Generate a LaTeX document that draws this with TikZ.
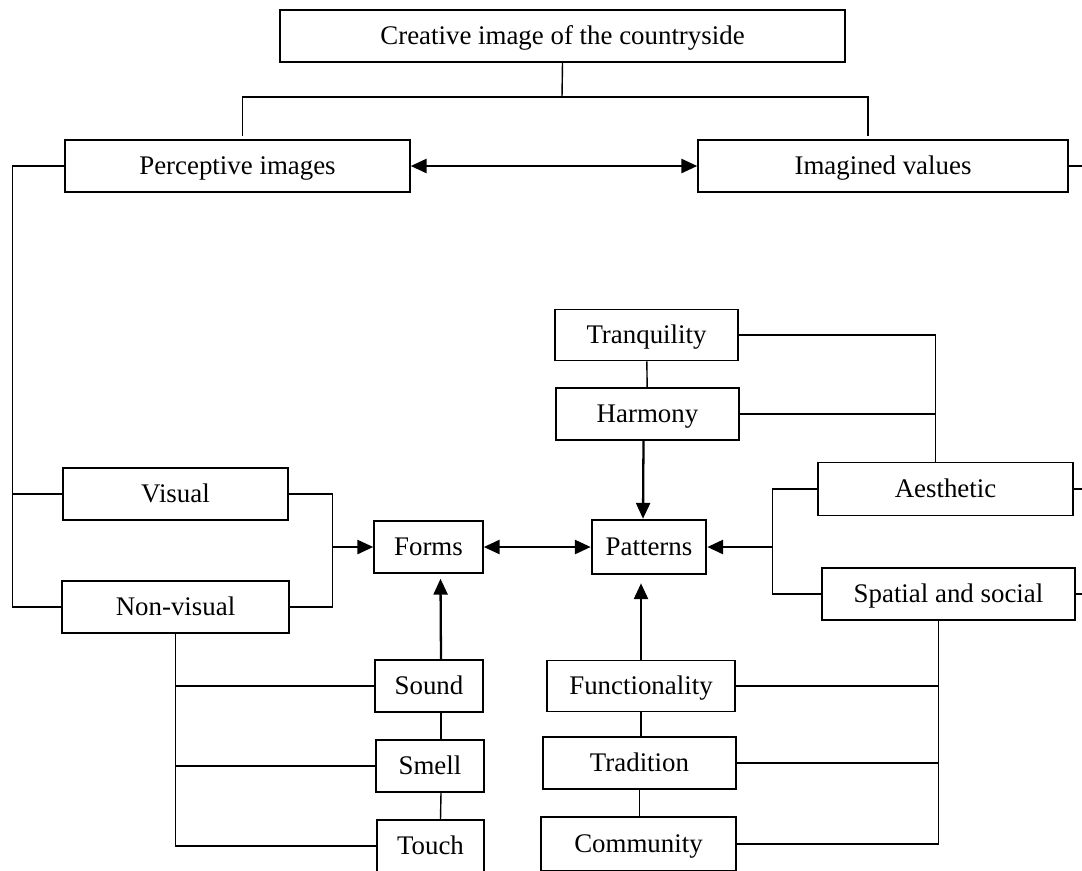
\documentclass[tikz,border=0pt]{standalone}
\usepackage{fontspec}
\setmainfont{Liberation Serif}
\usetikzlibrary{arrows.meta}
\usetikzlibrary{calc}

\tikzset{
  box/.style={draw, line width=0.9pt, inner sep=0pt, minimum height=1.04cm, text height=10.2pt, text depth=0pt, font=\fontsize{15.3}{18}\selectfont},
  arr/.style={-{Triangle[length=9pt,width=8pt]}, line width=1.3pt},
  dbl/.style={{Triangle[length=9pt,width=8pt]}-{Triangle[length=9pt,width=8pt]}, line width=1.3pt}
}

\begin{document}
\begin{tikzpicture}[x=0.02cm, y=-0.02cm, line width=0.8pt]
              \useasboundingbox (0,0) rectangle (1082,870);
              \clip (0,0) rectangle (1082,870);

              % top level
              \node[box, minimum width=11.3cm] (top) at (562.5,36) {Creative image of the countryside};
              \node[box, minimum width=6.9cm] (perc) at (237.5,166) {Perceptive images};
              \node[box, minimum width=7.4cm] (imag) at (883,166) {Imagined values};
              \coordinate (split) at (562,97);
              \draw (top.south) -- (split);
              \draw ([shift={(5,-3)}]perc.north) |- (split) -| ([shift={(-15,-3)}]imag.north);
              \draw[dbl] (perc) -- (imag);
              \draw (imag.east) -- ++(30,0);

              % perceptive side
              \node[box, minimum width=4.5cm] (visual) at (175.5,494) {Visual};
              \node[box, minimum width=4.54cm] (nonvis) at (175.5,607) {Non-visual};
              \node[box, minimum width=2.18cm] (forms) at (428.5,547) {Forms};
              \draw (perc.west) -- ++(-52,0) coordinate (lsp) |- (nonvis.west);
              \draw (visual.west) -- (visual.west -| lsp);
              \draw (visual.east) -- ++(44,0) coordinate (vj) |- (nonvis.east);
              \draw[arr] (vj |- forms.west) -- (forms.west);

              \node[box, minimum width=2.16cm] (sound) at (429,686) {Sound};
              \node[box, minimum width=2.16cm] (smell) at (430,766) {Smell};
              \node[box, minimum width=2.14cm] (touch) at (430.5,846) {Touch};
              \draw[arr] ([shift={(12,0)}]sound.north) -- ([shift={(12,5)}]forms.south);
              \draw ([shift={(12,0)}]sound.south) -- ([shift={(11,0)}]smell.north);
              \draw ([shift={(11,0)}]smell.south) -- ([shift={(10,0)}]touch.north);
              \draw (nonvis.south) |- (touch.west);
              \draw (sound.west) -- (sound.west -| nonvis.south);
              \draw (smell.west) -- (smell.west -| nonvis.south);

              % patterns side
              \node[box, minimum width=2.28cm, minimum height=1.08cm, line width=1.5pt] (patt) at (649,547) {Patterns};
              \draw[dbl] (forms) -- (patt);

              \node[box, minimum width=3.66cm, minimum height=1.02cm] (tranq) at (646.5,335) {Tranquility};
              \node[box, minimum width=3.66cm] (harm) at (647.5,414) {Harmony};
              \draw (tranq) -- (harm);
              \draw[arr] ([shift={(-4,0)}]harm.south) -- ([shift={(-6,0)}]patt.north);

              \node[box, minimum width=5.1cm, minimum height=1.06cm] (aest) at (945.5,489) {Aesthetic};
              \node[box, minimum width=5.06cm] (spat) at (948.5,594) {Spatial and social};
              \coordinate (ajoin) at ([shift={(-10,0)}]aest.north);
              \draw (tranq.east) -| (ajoin);
              \draw (harm.east) -- (harm.east -| ajoin);
              \draw (aest.west) -- ++(-45,0) coordinate (pj) |- (spat.west);
              \draw[arr] (pj |- patt.east) -- (patt.east);
              \draw (aest.east) -- ++(30,0);
              \draw (spat.east) -- ++(30,0);

              \node[box, minimum width=3.76cm, minimum height=1.02cm] (func) at (641,686) {Functionality};
              \node[box, minimum width=3.86cm] (trad) at (639.5,763) {Tradition};
              \node[box, minimum width=3.9cm, minimum height=1.08cm] (comm) at (638.5,844) {Community};
              \coordinate (pb) at ([shift={(-9,8)}]patt.south);
              \draw[arr] (func.north) -- (func.north |- pb);
              \draw (func.south) -- (func.south |- trad.north);
              \draw (trad.south) -- (trad.south |- comm.north);
              \draw ([shift={(-10,0)}]spat.south) coordinate (sj) |- (comm.east);
              \draw (func.east) -- (func.east -| sj);
              \draw (trad.east) -- (trad.east -| sj);
            \end{tikzpicture}
\end{document}
